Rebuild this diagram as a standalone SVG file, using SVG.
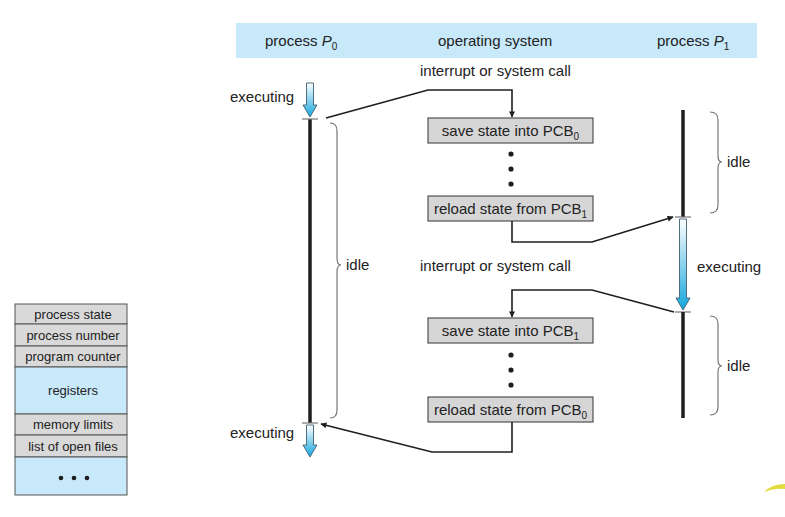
<svg xmlns="http://www.w3.org/2000/svg" width="785" height="517" viewBox="0 0 785 517">
  <style>
    text { font-family: "Liberation Sans", Arial, sans-serif; fill: #222; }
    .hdr { font-size: 15px; }
    .lbl { font-size: 15px; }
    .irq { font-size: 15px; }
    .box rect { fill: #d6d6d6; stroke: #333; stroke-width: 1; }
    .box text { font-size: 15px; text-anchor: middle; }
    .pcb rect.g { fill: #d9d9d9; stroke: #555; stroke-width: 1; }
    .pcb rect.b { fill: #c7e9f9; stroke: #555; stroke-width: 1; }
    .pcb text { font-size: 13px; text-anchor: middle; }
    .timeline { stroke: #1e1e1e; stroke-width: 3.5; }
    .tick { stroke: #777; stroke-width: 1.2; }
    .brace { fill: none; stroke: #777; stroke-width: 1.2; }
    .conn { fill: none; stroke: #1e1e1e; stroke-width: 1.6; }
    .exec { fill: url(#execGrad); stroke: #3d5f73; stroke-width: 0.9; }
    .dot { fill: #1e1e1e; }
    .sub { font-size: 10px; }
  </style>
  <defs>
    <linearGradient id="execGrad" x1="0" y1="0" x2="0" y2="1">
      <stop offset="0" stop-color="#ffffff"/>
      <stop offset="1" stop-color="#13a6de"/>
    </linearGradient>
    <marker id="arrow" viewBox="0 0 10 10" refX="9" refY="5" markerWidth="8" markerHeight="6" markerUnits="userSpaceOnUse" orient="auto">
      <path d="M0,0 L10,5 L0,10 Z" fill="#1e1e1e"/>
    </marker>
  </defs>

  <!-- column header bar -->
  <g id="header">
    <rect x="236" y="23" width="521" height="35" fill="#c7e9f9"/>
    <text class="hdr" x="265" y="46">process <tspan font-style="italic">P</tspan><tspan class="sub" dy="4">0</tspan></text>
    <text class="hdr" x="438" y="46">operating system</text>
    <text class="hdr" x="657" y="46">process <tspan font-style="italic">P</tspan><tspan class="sub" dy="4">1</tspan></text>
  </g>

  <!-- process P0 timeline -->
  <g id="p0">
    <path class="exec" d="M306.5,83 L313.5,83 L313.5,105 L317,105 L310,117 L303,105 L306.5,105 Z"/>
    <line class="timeline" x1="310" y1="119" x2="310" y2="423"/>
    <line class="tick" x1="302" y1="119" x2="318" y2="119"/>
    <line class="tick" x1="302" y1="423" x2="318" y2="423"/>
    <path class="exec" d="M306.5,425 L313.5,425 L313.5,445 L317,445 L310,457 L303,445 L306.5,445 Z"/>
    <text class="lbl" x="230" y="102">executing</text>
    <text class="lbl" x="230" y="438">executing</text>
    <path class="brace" d="M330,123 Q337,123 337,131 L337,258 Q337,265 341,265 Q337,265 337,272 L337,410 Q337,418 330,418"/>
    <text class="lbl" x="346" y="270">idle</text>
  </g>

  <!-- process P1 timeline -->
  <g id="p1">
    <line class="timeline" x1="683" y1="110" x2="683" y2="217"/>
    <line class="tick" x1="675" y1="217" x2="691" y2="217"/>
    <path class="exec" d="M679.5,219 L686.5,219 L686.5,298 L690,298 L683,310 L676,298 L679.5,298 Z"/>
    <line class="tick" x1="675" y1="312" x2="691" y2="312"/>
    <line class="timeline" x1="683" y1="312" x2="683" y2="418"/>
    <text class="lbl" x="697" y="272">executing</text>
    <path class="brace" d="M710,112 Q718,112 718,120 L718,156 Q718,162 722,162 Q718,162 718,168 L718,205 Q718,213 710,213"/>
    <text class="lbl" x="727" y="167">idle</text>
    <path class="brace" d="M710,316 Q718,316 718,324 L718,360 Q718,366 722,366 Q718,366 718,372 L718,407 Q718,415 710,415"/>
    <text class="lbl" x="727" y="371">idle</text>
  </g>

  <!-- operating system steps -->
  <g id="os-labels">
    <text class="irq" x="420" y="76">interrupt or system call</text>
    <text class="irq" x="420" y="271">interrupt or system call</text>
  </g>
  <g id="save0" class="box">
    <rect x="428" y="118" width="165" height="25"/>
    <text x="510.5" y="136">save state into PCB<tspan class="sub" dy="4">0</tspan></text>
  </g>
  <g id="dots1">
    <circle class="dot" cx="511" cy="154" r="2.6"/>
    <circle class="dot" cx="511" cy="169" r="2.6"/>
    <circle class="dot" cx="511" cy="184" r="2.6"/>
  </g>
  <g id="reload1" class="box">
    <rect x="428" y="196" width="165" height="25"/>
    <text x="510.5" y="214">reload state from PCB<tspan class="sub" dy="4">1</tspan></text>
  </g>
  <g id="save1" class="box">
    <rect x="428" y="318" width="165" height="25"/>
    <text x="510.5" y="336">save state into PCB<tspan class="sub" dy="4">1</tspan></text>
  </g>
  <g id="dots2">
    <circle class="dot" cx="511" cy="355" r="2.6"/>
    <circle class="dot" cx="511" cy="370" r="2.6"/>
    <circle class="dot" cx="511" cy="385" r="2.6"/>
  </g>
  <g id="reload0" class="box">
    <rect x="428" y="397" width="165" height="25"/>
    <text x="510.5" y="415">reload state from PCB<tspan class="sub" dy="4">0</tspan></text>
  </g>

  <!-- control transfers between processes and kernel -->
  <g id="connectors">
    <polyline class="conn" points="326,118 428,90 512,90 512,117" marker-end="url(#arrow)"/>
    <polyline class="conn" points="512,221 512,242 592,242 673,217" marker-end="url(#arrow)"/>
    <polyline class="conn" points="674,312 592,290 512,290 512,317" marker-end="url(#arrow)"/>
    <polyline class="conn" points="512,422 512,452 432,452 321,424" marker-end="url(#arrow)"/>
  </g>

  <!-- process control block -->
  <g id="pcb" class="pcb">
    <rect class="g" x="15" y="304" width="112" height="20"/>
    <text x="73" y="318.5">process state</text>
    <rect class="g" x="15" y="324" width="112" height="22"/>
    <text x="73" y="339.5">process number</text>
    <rect class="g" x="15" y="346" width="112" height="21"/>
    <text x="73" y="361">program counter</text>
    <rect class="b" x="15" y="367" width="112" height="47"/>
    <text x="73" y="395">registers</text>
    <rect class="g" x="15" y="414" width="112" height="21"/>
    <text x="73" y="429">memory limits</text>
    <rect class="g" x="15" y="435" width="112" height="22"/>
    <text x="73" y="451">list of open files</text>
    <rect class="b" x="15" y="457" width="112" height="38"/>
    <circle class="dot" cx="61" cy="478" r="2.3"/>
    <circle class="dot" cx="74" cy="478" r="2.3"/>
    <circle class="dot" cx="87" cy="478" r="2.3"/>
  </g>

  <!-- corner ornament -->
  <path d="M764,492 Q772,484 785,484 L785,489 Q774,488 764,492 Z" fill="#e3dc3c"/>
</svg>
